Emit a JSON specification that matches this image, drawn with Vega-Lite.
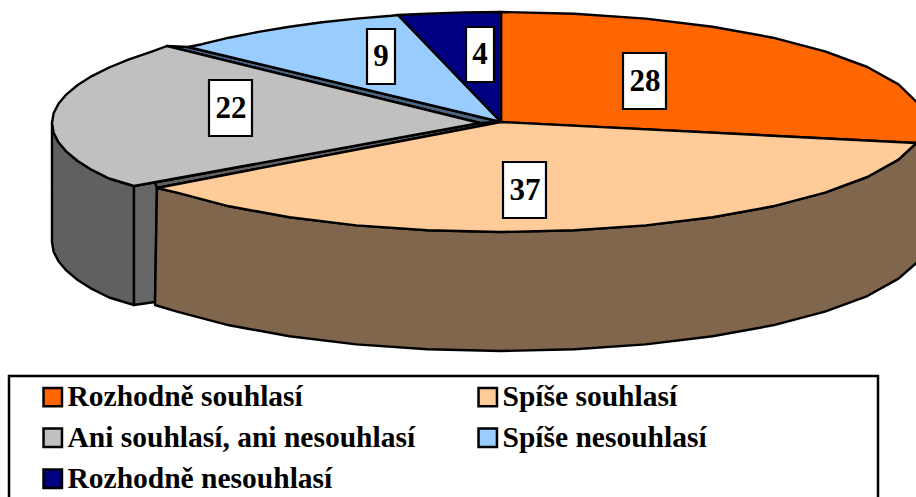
{
"$schema":"https://vega.github.io/schema/vega-lite/v6.json",
"width":916,"height":497,"padding":0,"autosize":{"type":"none"},"background":"white",
"config":{"view":{"stroke":null},"font":"Liberation Serif"},
"datasets":{
"frame":[{"x":9,"x2":878,"y":376,"y2":520}],
"sides":[
{"face":"grey outer","i":1,"x":52,"y":123},{"face":"grey outer","i":2,"x":53.6,"y":132.7},{"face":"grey outer","i":3,"x":58.5,"y":142.3},{"face":"grey outer","i":4,"x":66.5,"y":151.7},{"face":"grey outer","i":5,"x":77.7,"y":161},{"face":"grey outer","i":6,"x":91.9,"y":169.9},{"face":"grey outer","i":7,"x":109.1,"y":178.5},{"face":"grey outer","i":8,"x":134,"y":186},{"face":"grey outer","i":9,"x":134,"y":305},{"face":"grey outer","i":10,"x":109.1,"y":297.5},{"face":"grey outer","i":11,"x":91.9,"y":288.9},{"face":"grey outer","i":12,"x":77.7,"y":280},{"face":"grey outer","i":13,"x":66.5,"y":270.7},{"face":"grey outer","i":14,"x":58.5,"y":261.3},{"face":"grey outer","i":15,"x":53.6,"y":251.7},{"face":"grey outer","i":16,"x":52,"y":242},{"face":"grey outer","i":17,"x":52,"y":123},
{"face":"grey cut","i":1,"x":134,"y":186},{"face":"grey cut","i":2,"x":157,"y":182},{"face":"grey cut","i":3,"x":155,"y":302},{"face":"grey cut","i":4,"x":134,"y":305},{"face":"grey cut","i":5,"x":134,"y":186},
{"face":"grey strip","i":1,"x":155,"y":182.5},{"face":"grey strip","i":2,"x":480,"y":123},{"face":"grey strip","i":3,"x":501,"y":122},{"face":"grey strip","i":4,"x":157,"y":188},{"face":"grey strip","i":5,"x":155,"y":182.5},
{"face":"blue strip","i":1,"x":188,"y":47},{"face":"blue strip","i":2,"x":501,"y":122},{"face":"blue strip","i":3,"x":480,"y":123},{"face":"blue strip","i":4,"x":167,"y":46},{"face":"blue strip","i":5,"x":188,"y":47},
{"face":"peach outer","i":1,"x":916.4,"y":143},{"face":"peach outer","i":2,"x":898.5,"y":159.6},{"face":"peach outer","i":3,"x":867.3,"y":177},{"face":"peach outer","i":4,"x":825,"y":192.7},{"face":"peach outer","i":5,"x":772.9,"y":206.3},{"face":"peach outer","i":6,"x":712.5,"y":217.3},{"face":"peach outer","i":7,"x":645.7,"y":225.4},{"face":"peach outer","i":8,"x":574.5,"y":230.3},{"face":"peach outer","i":9,"x":501,"y":232},{"face":"peach outer","i":10,"x":427.5,"y":230.3},{"face":"peach outer","i":11,"x":356.3,"y":225.4},{"face":"peach outer","i":12,"x":289.5,"y":217.3},{"face":"peach outer","i":13,"x":229.1,"y":206.3},{"face":"peach outer","i":14,"x":177,"y":192.7},{"face":"peach outer","i":15,"x":157,"y":188},{"face":"peach outer","i":16,"x":155,"y":305},{"face":"peach outer","i":17,"x":177,"y":311.7},{"face":"peach outer","i":18,"x":229.1,"y":325.3},{"face":"peach outer","i":19,"x":289.5,"y":336.3},{"face":"peach outer","i":20,"x":356.3,"y":344.4},{"face":"peach outer","i":21,"x":427.5,"y":349.3},{"face":"peach outer","i":22,"x":501,"y":351},{"face":"peach outer","i":23,"x":574.5,"y":349.3},{"face":"peach outer","i":24,"x":645.7,"y":344.4},{"face":"peach outer","i":25,"x":712.5,"y":336.3},{"face":"peach outer","i":26,"x":772.9,"y":325.3},{"face":"peach outer","i":27,"x":825,"y":311.7},{"face":"peach outer","i":28,"x":867.3,"y":296},{"face":"peach outer","i":29,"x":898.5,"y":278.6},{"face":"peach outer","i":30,"x":916.4,"y":263},{"face":"peach outer","i":31,"x":924,"y":240},{"face":"peach outer","i":32,"x":924,"y":130},{"face":"peach outer","i":33,"x":916.4,"y":143}
],
"tops":[
{"slice":"Rozhodně souhlasí","i":1,"x":501,"y":122},{"slice":"Rozhodně souhlasí","i":2,"x":501,"y":12},{"slice":"Rozhodně souhlasí","i":3,"x":574.5,"y":13.7},{"slice":"Rozhodně souhlasí","i":4,"x":645.7,"y":18.6},{"slice":"Rozhodně souhlasí","i":5,"x":712.5,"y":26.7},{"slice":"Rozhodně souhlasí","i":6,"x":772.9,"y":37.7},{"slice":"Rozhodně souhlasí","i":7,"x":825,"y":51.3},{"slice":"Rozhodně souhlasí","i":8,"x":867.3,"y":67},{"slice":"Rozhodně souhlasí","i":9,"x":898.5,"y":84.4},{"slice":"Rozhodně souhlasí","i":10,"x":917.6,"y":102.9},{"slice":"Rozhodně souhlasí","i":11,"x":924,"y":122},{"slice":"Rozhodně souhlasí","i":12,"x":916.4,"y":143},{"slice":"Rozhodně souhlasí","i":13,"x":501,"y":122},
{"slice":"Spíše souhlasí","i":1,"x":501,"y":122},{"slice":"Spíše souhlasí","i":2,"x":916.4,"y":143},{"slice":"Spíše souhlasí","i":3,"x":898.5,"y":159.6},{"slice":"Spíše souhlasí","i":4,"x":867.3,"y":177},{"slice":"Spíše souhlasí","i":5,"x":825,"y":192.7},{"slice":"Spíše souhlasí","i":6,"x":772.9,"y":206.3},{"slice":"Spíše souhlasí","i":7,"x":712.5,"y":217.3},{"slice":"Spíše souhlasí","i":8,"x":645.7,"y":225.4},{"slice":"Spíše souhlasí","i":9,"x":574.5,"y":230.3},{"slice":"Spíše souhlasí","i":10,"x":501,"y":232},{"slice":"Spíše souhlasí","i":11,"x":427.5,"y":230.3},{"slice":"Spíše souhlasí","i":12,"x":356.3,"y":225.4},{"slice":"Spíše souhlasí","i":13,"x":289.5,"y":217.3},{"slice":"Spíše souhlasí","i":14,"x":229.1,"y":206.3},{"slice":"Spíše souhlasí","i":15,"x":177,"y":192.7},{"slice":"Spíše souhlasí","i":16,"x":157,"y":188},{"slice":"Spíše souhlasí","i":17,"x":501,"y":122},
{"slice":"Ani souhlasí, ani nesouhlasí","i":1,"x":480,"y":123},{"slice":"Ani souhlasí, ani nesouhlasí","i":2,"x":167,"y":46},{"slice":"Ani souhlasí, ani nesouhlasí","i":3,"x":151.7,"y":51.7},{"slice":"Ani souhlasí, ani nesouhlasí","i":4,"x":129,"y":59.3},{"slice":"Ani souhlasí, ani nesouhlasí","i":5,"x":109.1,"y":67.5},{"slice":"Ani souhlasí, ani nesouhlasí","i":6,"x":91.9,"y":76.1},{"slice":"Ani souhlasí, ani nesouhlasí","i":7,"x":77.7,"y":85},{"slice":"Ani souhlasí, ani nesouhlasí","i":8,"x":66.5,"y":94.3},{"slice":"Ani souhlasí, ani nesouhlasí","i":9,"x":58.5,"y":103.7},{"slice":"Ani souhlasí, ani nesouhlasí","i":10,"x":53.6,"y":113.3},{"slice":"Ani souhlasí, ani nesouhlasí","i":11,"x":52,"y":123},{"slice":"Ani souhlasí, ani nesouhlasí","i":12,"x":53.6,"y":132.7},{"slice":"Ani souhlasí, ani nesouhlasí","i":13,"x":58.5,"y":142.3},{"slice":"Ani souhlasí, ani nesouhlasí","i":14,"x":66.5,"y":151.7},{"slice":"Ani souhlasí, ani nesouhlasí","i":15,"x":77.7,"y":161},{"slice":"Ani souhlasí, ani nesouhlasí","i":16,"x":91.9,"y":169.9},{"slice":"Ani souhlasí, ani nesouhlasí","i":17,"x":109.1,"y":178.5},{"slice":"Ani souhlasí, ani nesouhlasí","i":18,"x":134,"y":186},{"slice":"Ani souhlasí, ani nesouhlasí","i":19,"x":480,"y":123},
{"slice":"Spíše nesouhlasí","i":1,"x":501,"y":122},{"slice":"Spíše nesouhlasí","i":2,"x":188,"y":47},{"slice":"Spíše nesouhlasí","i":3,"x":202,"y":44.2},{"slice":"Spíše nesouhlasí","i":4,"x":229,"y":37.7},{"slice":"Spíše nesouhlasí","i":5,"x":258.4,"y":31.9},{"slice":"Spíše nesouhlasí","i":6,"x":289.5,"y":26.7},{"slice":"Spíše nesouhlasí","i":7,"x":322.1,"y":22.3},{"slice":"Spíše nesouhlasí","i":8,"x":356.3,"y":18.6},{"slice":"Spíše nesouhlasí","i":9,"x":391.4,"y":15.7},{"slice":"Spíše nesouhlasí","i":10,"x":398,"y":15},{"slice":"Spíše nesouhlasí","i":11,"x":501,"y":122},
{"slice":"Rozhodně nesouhlasí","i":1,"x":501,"y":122},{"slice":"Rozhodně nesouhlasí","i":2,"x":398,"y":15},{"slice":"Rozhodně nesouhlasí","i":3,"x":427.5,"y":13.7},{"slice":"Rozhodně nesouhlasí","i":4,"x":464.1,"y":12.4},{"slice":"Rozhodně nesouhlasí","i":5,"x":501,"y":12},{"slice":"Rozhodně nesouhlasí","i":6,"x":501,"y":122}
],
"labels":[
{"slice":"Rozhodně souhlasí","value":28,"x1":623,"x2":666,"y1":53,"y2":109,"cx":645,"cy":82},
{"slice":"Spíše souhlasí","value":37,"x1":503,"x2":546,"y1":162,"y2":218,"cx":525,"cy":191},
{"slice":"Ani souhlasí, ani nesouhlasí","value":22,"x1":209,"x2":252,"y1":80,"y2":136,"cx":231,"cy":109},
{"slice":"Spíše nesouhlasí","value":9,"x1":367,"x2":395,"y1":29,"y2":84,"cx":381,"cy":57},
{"slice":"Rozhodně nesouhlasí","value":4,"x1":466,"x2":494,"y1":27,"y2":82,"cx":480,"cy":55}
]
},
"encoding":{
"x":{"type":"quantitative","scale":{"domain":[0,916],"range":[0,916]},"axis":null},
"y":{"type":"quantitative","scale":{"domain":[0,497],"range":[0,497]},"axis":null}
},
"layer":[
{"data":{"name":"frame"},"mark":{"type":"rect","fill":"white","stroke":"black","strokeWidth":2.5},
 "encoding":{"x":{"field":"x","type":"quantitative"},"x2":{"field":"x2"},"y":{"field":"y","type":"quantitative"},"y2":{"field":"y2"}}},
{"data":{"name":"sides"},"mark":{"type":"line","stroke":"black","strokeWidth":2.4,"strokeJoin":"round","clip":false},
 "encoding":{"x":{"field":"x","type":"quantitative"},"y":{"field":"y","type":"quantitative"},"order":{"field":"i","type":"quantitative"},
 "fill":{"field":"face","type":"nominal","legend":null,"scale":{"domain":["grey outer","grey cut","grey strip","blue strip","peach outer"],"range":["#606060","#666666","#606060","#4D6680","#80664D"]}}}},
{"data":{"name":"tops"},"mark":{"type":"line","stroke":"black","strokeWidth":2.4,"strokeJoin":"round"},
 "encoding":{"x":{"field":"x","type":"quantitative"},"y":{"field":"y","type":"quantitative"},"order":{"field":"i","type":"quantitative"},
 "fill":{"field":"slice","type":"nominal","sort":null,"scale":{"domain":["Rozhodně souhlasí","Spíše souhlasí","Ani souhlasí, ani nesouhlasí","Spíše nesouhlasí","Rozhodně nesouhlasí"],"range":["#FF6600","#FFCC99","#C0C0C0","#99CCFF","#000080"]},
 "legend":{"title":null,"orient":"none","legendX":38,"legendY":382,"direction":"horizontal","columns":2,"symbolType":"square","symbolSize":340,"symbolStrokeColor":"black","symbolStrokeWidth":2.5,"symbolOpacity":1,"labelFont":"Liberation Serif","labelFontWeight":"bold","labelFontSize":29.5,"labelColor":"black","labelLimit":500,"labelOffset":0,"rowPadding":10,"columnPadding":57,"gridAlign":"all","padding":0}}}},
{"data":{"name":"labels"},"mark":{"type":"rect","fill":"white","stroke":"black","strokeWidth":2.2},
 "encoding":{"x":{"field":"x1","type":"quantitative"},"x2":{"field":"x2"},"y":{"field":"y1","type":"quantitative"},"y2":{"field":"y2"}}},
{"data":{"name":"labels"},"mark":{"type":"text","font":"Liberation Serif","fontWeight":"bold","fontSize":31,"align":"center","baseline":"middle","color":"black"},
 "encoding":{"x":{"field":"cx","type":"quantitative"},"y":{"field":"cy","type":"quantitative"},"text":{"field":"value","type":"quantitative"}}}
],
"resolve":{"scale":{"fill":"independent"}}
}
